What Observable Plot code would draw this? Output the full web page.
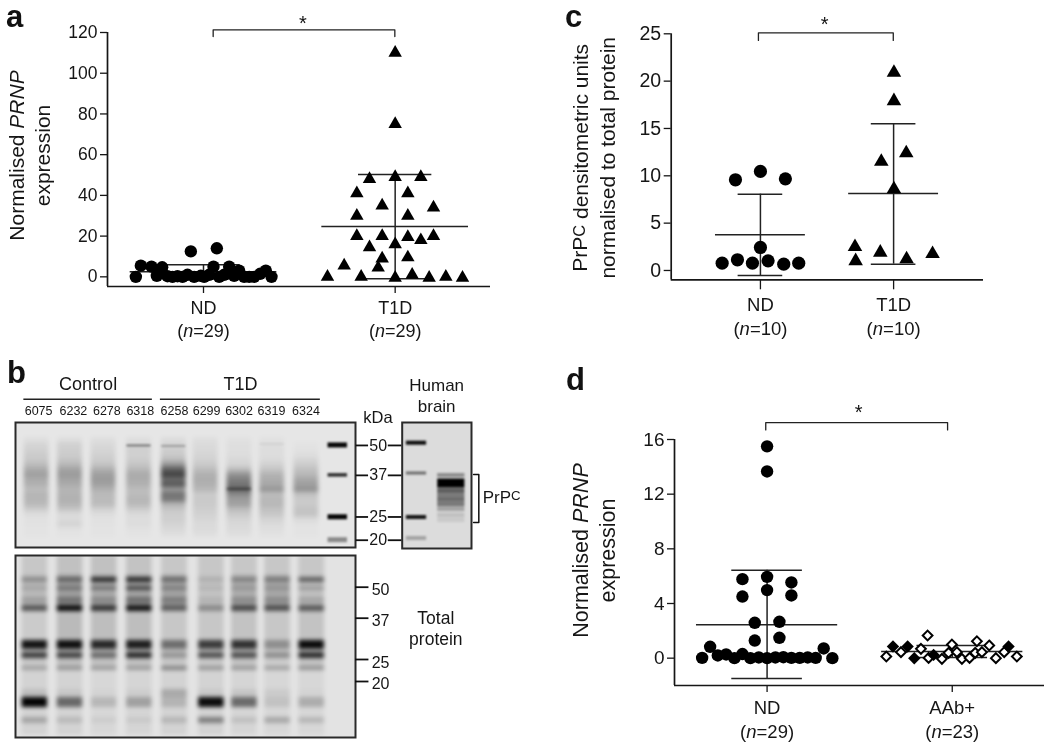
<!DOCTYPE html>
<html><head><meta charset="utf-8">
<style>
html,body{margin:0;padding:0;background:#fff;}
#root{position:relative;width:1050px;height:745px;overflow:hidden;font-family:"Liberation Sans",Arial,sans-serif;color:#111;filter:blur(0.4px);}
.letter{position:absolute;font-weight:bold;font-size:31px;line-height:34px;color:#111;}
</style>
<script src="https://cdn.jsdelivr.net/npm/d3@7"></script>
<script src="https://cdn.jsdelivr.net/npm/@observablehq/plot@0.6"></script>
</head><body><div id="root"></div>
<script>
// ---------- Panel a ----------
const aNdOffset=[-203,-188,-156,-124,-140,-108,-78,-48,-28,-8,-38,40,30,17,47,62,77,92,107,122,152,170,187,204,137,-93,-63,-138,2];
const aNdValue=[0,5.5,5,4.7,0.5,0.3,0.3,1,0,0.5,12.5,14,5,1,0,1,5,0.5,3,0,0,1.5,3,0,0,0,0,2.5,0];
const aT1dOffset=[0,0,-77,0,77,-115,38,-39,115,-115,38,-115,-39,38,77,115,-77,0,-39,38,-153,-51,-203,-102,0,51,102,152,202];
const aT1dValue=[110,75,48,49,49,41,41,35,34,30,30,20,20,19.5,18,20,14.5,16,9,9.5,5.5,4.5,0,0,-0.5,1,-0.5,0,-0.5];
const aMean=[2.5,24.7], aUpper=[5.9,50.2], aLower=[-1,-1];
// ---------- Panel c ----------
const cNdOffset=[-75,0,75,0,-115,-69,-24,23,70,115];
const cNdValue=[9.58,10.46,9.68,2.43,0.77,1.13,0.77,1.02,0.67,0.77];
const cT1dOffset=[1,1,38,-37,1,-116,-40,117,-114,39];
const cT1dValue=[20.9,17.9,12.4,11.5,8.6,2.5,1.9,1.76,1.0,1.2];
const cMean=[3.77,8.13], cUpper=[8.06,15.5], cLower=[-0.53,0.67];
// ---------- Panel d ----------
const dNdOffset=[0,0,-74,0,73,0,-74,73,-37,37,-37,37,-171,170,-195,196,-148,-123,-98,-74,-50,-25,0,25,49,73,98,122,146];
const dNdValue=[15.5,13.66,5.78,5.95,5.54,4.98,4.51,4.59,2.59,2.66,1.29,1.49,0.83,0.71,0.02,0,0.2,0.27,0,0.3,0,0.05,0,0.05,0.07,0.02,0.02,0.05,0.02];
const dFilledOffset=[-178,-134,-114,-56,169];
const dFilledValue=[0.85,0.85,0,0.24,0.85];
const dOpenOffset=[-74,-198,-154,-94,-71,-31,-1,-11,14,29,52,74,69,89,111,131,156,194];
const dOpenValue=[1.66,0.12,0.44,0.68,0.02,-0.05,1.0,0.39,0.44,-0.05,0.02,1.24,0.39,0.44,0.93,0,0.44,0.12];
const dMean=[2.44,0.49], dUpper=[6.44,0.93], dLower=[-1.49,0.05];
// ---------- Panel b: gel lanes ----------
const sampleIds=["6075","6232","6278","6318","6258","6299","6302","6319","6324"];
const sampleLabelLane=[1.06,2.1,3.1,4.1,5.12,6.08,7.05,8.02,9.05];
const groupNames=["Control","T1D"];
const groupFrom=[0.62,4.7], groupTo=[4.46,9.48];
const blot1Lanes=[1,2,3,4.06,5.1,6.05,7.06,8.04,9.06];
const blot1Distance=[15,20,25,30,35,40,45,50,55,60,65,70,75,80,85,90,95,100,105,110];
const blot1Alpha=[
[.03,.03,.03,.03,.04,.03,.02,.02,.00],
[.07,.09,.06,.06,.08,.05,.03,.03,.01],
[.09,.10,.07,.10,.10,.06,.03,.04,.02],
[.11,.11,.09,.09,.12,.07,.04,.04,.03],
[.13,.14,.11,.11,.18,.09,.06,.05,.07],
[.18,.20,.15,.14,.35,.12,.08,.09,.11],
[.26,.29,.24,.20,.60,.18,.18,.14,.16],
[.31,.33,.31,.26,.72,.23,.36,.22,.20],
[.26,.29,.33,.25,.55,.25,.45,.25,.27],
[.23,.26,.30,.23,.62,.23,.50,.27,.31],
[.18,.21,.23,.18,.35,.20,.60,.35,.36],
[.21,.22,.19,.18,.50,.12,.40,.18,.16],
[.21,.23,.19,.21,.48,.12,.32,.20,.12],
[.19,.21,.18,.19,.22,.12,.30,.20,.12],
[.11,.14,.09,.11,.14,.10,.18,.16,.15],
[.04,.05,.04,.05,.10,.09,.12,.13,.15],
[.02,.05,.02,.04,.10,.07,.08,.08,.05],
[.02,.08,.02,.04,.08,.05,.06,.05,.02],
[.01,.02,.01,.02,.06,.05,.05,.03,.01],
[.01,.01,.01,.01,.03,.03,.03,.02,.01]];
const blot1ExtraLane=[4.06,5.1,8.04,7.06];
const blot1ExtraDistance=[23.5,24,22,67];
const blot1ExtraHeight=[2,2,1.5,2.5];
const blot1ExtraAlpha=[.45,.25,.08,.3];
const ladderDistance=[23,53,95,118];
const ladderHeight=[5,3.5,5,5];
const ladderAlpha=[.98,.8,.98,.4];
const blot1Ticks=[23,53,94.7,118];
const markerLabels=["50","37","25","20"];
const brainLane=[1,1,1,1,2,2,2,2,2,2,2,2,2];
const brainDistance=[20.7,51,95,116,53,61,68,72,77,82,87,93,98];
const brainHeight=[4,3,4,4,4,9,4,5,5,5,4,5,4];
const brainAlpha=[.95,.5,.9,.25,.35,1,.55,.45,.5,.45,.25,.12,.08];
const blot2Lanes=[1,2.02,3.01,4.03,5.05,6.12,7.08,8.04,9.03];
const blot2Distance=[0,20,55,85,115,22,31,42,50,85,97,111,134,142,162];
const blot2Height=[20,35,30,30,65,5,4,6,6,9,6,4,8,10,6];
const blot2Alpha=[
[.12,.15,.15,.14,.12,.12,.12,.12,.12],
[.18,.30,.25,.28,.28,.14,.24,.26,.15],
[.10,.18,.16,.16,.12,.12,.14,.12,.14],
[.12,.16,.15,.15,.12,.12,.14,.10,.14],
[.07,.07,.05,.06,.07,.07,.06,.05,.05],
[.25,.38,.75,.75,.35,.10,.25,.28,.50],
[.12,.30,.35,.60,.25,.08,.15,.15,.20],
[.15,.30,.20,.35,.25,.08,.20,.18,.15],
[.55,.95,.70,.90,.45,.30,.60,.55,.55],
[.90,.92,.80,.85,.45,.70,.75,.30,.95],
[.70,.65,.45,.80,.25,.60,.60,.30,.80],
[.20,.22,.20,.20,.35,.25,.22,.22,.25],
[.10,.06,.02,.04,.20,.05,.08,.06,.02],
[.98,.50,.15,.25,.15,.95,.50,.10,.20],
[.22,.12,.05,.06,.14,.40,.10,.22,.15]];
const blot2Ticks=[31.7,62.7,104,126];
const blot2TextDistance=[34,65,107,128];

const root=document.getElementById("root");
const INK="#161616";
const baseStyle={fontFamily:"'Liberation Sans',Arial,sans-serif",background:"transparent",color:INK};

function place(svg,left,top){
  svg.style.position="absolute";svg.style.left=left+"px";svg.style.top=top+"px";
  root.appendChild(svg);
}
function letter(t,left,top){
  const d=document.createElement("div");d.className="letter";d.textContent=t;
  d.style.left=left+"px";d.style.top=top+"px";root.appendChild(d);
}
function band(group,mean,up,lo,capHalf,meanHalf){
  return [
    {x1:group-meanHalf,x2:group+meanHalf,y:mean},
    {x1:group-capHalf,x2:group+capHalf,y:up},
    {x1:group-capHalf,x2:group+capHalf,y:lo}
  ];
}
function scatter(cfg){
  const {left,top,width,height,mt,mb,ml,mr,xDomain,yDomain,ticks,gap,labels,means,uppers,lowers,cap,meanW,tickX,series,bracket,star,yLabel,yLabelDx,yFont,fonts}=cfg;
  const segs=[0,1].flatMap(i=>band(i*gap,means[i],uppers[i],lowers[i],cap,meanW));
  const verts=[0,1].map(i=>({x:i*gap,y1:lowers[i],y2:uppers[i]}));
  const marks=[
    Plot.ruleY([yDomain[0]],{x1:xDomain[0],x2:xDomain[1],stroke:INK,strokeWidth:1.7}),
    Plot.ruleX([xDomain[0]],{y1:yDomain[0],y2:yDomain[1],stroke:INK,strokeWidth:1.7}),
    Plot.axisY({ticks,tickSize:7,tickPadding:3,fontSize:fonts.tick,label:null,stroke:INK,strokeWidth:1.3,tickFormat:d=>String(d)}),
    Plot.axisX({ticks:[0,gap],tickSize:tickX,tickPadding:cfg.xPad,fontSize:fonts.x,label:null,lineHeight:1.27,stroke:INK,strokeWidth:1.3,tickFormat:d=>labels[d===0?0:1]}),
    Plot.ruleY(segs,{x1:"x1",x2:"x2",y:"y",stroke:"#222",strokeWidth:1.5}),
    Plot.ruleX(verts,{x:"x",y1:"y1",y2:"y2",stroke:"#222",strokeWidth:1.5}),
    ...series.map(s=>Plot.dot(s.off.map((o,i)=>({x:s.group*gap+o,y:s.val[i]})),{x:"x",y:"y",symbol:s.symbol,r:s.r,fill:s.fill,stroke:s.stroke||"none",strokeWidth:s.sw||0})),
    Plot.line(bracket.pts,{x:"x",y:"y",stroke:"#222",strokeWidth:1.3}),
    Plot.text(["*"],{x:star[0],y:star[1],fontSize:20,fill:"#111",lineAnchor:"middle"}),
    Plot.text([yLabel],{frameAnchor:"left",dx:yLabelDx,dy:cfg.yLabelDy||0,rotate:-90,fontSize:yFont,lineHeight:1.25,textAnchor:"middle",fill:INK})
  ];
  const svg=Plot.plot({width,height,marginTop:mt,marginBottom:mb,marginLeft:ml,marginRight:mr,style:baseStyle,
    x:{domain:xDomain},y:{domain:yDomain},marks});
  place(svg,left,top);
}

// a
scatter({left:0,top:0,width:520,height:350,mt:32,mb:64,ml:107,mr:30,xDomain:[-288,861],yDomain:[-4.75,120],
  ticks:[0,20,40,60,80,100,120],gap:575,labels:["ND\n(n=29)","T1D\n(n=29)"],means:aMean,uppers:aUpper,lowers:aLower,cap:110,meanW:220,tickX:7,xPad:4,
  series:[{off:aNdOffset,val:aNdValue,group:0,symbol:"circle",r:6.2,fill:"#000"},{off:aT1dOffset,val:aT1dValue,group:1,symbol:"triangle",r:5,fill:"#000"}],
  bracket:{pts:[{x:29,y:118},{x:29,y:121.3},{x:574,y:121.3},{x:574,y:118}]},star:[298,124.5],
  yLabel:"Normalised PRNP\nexpression",yLabelDx:-79,yLabelDy:-4,yFont:21,fonts:{tick:17.5,x:18}});
// c
scatter({left:540,top:0,width:510,height:350,mt:33.3,mb:70.7,ml:130.7,mr:67,xDomain:[-268,670],yDomain:[-0.985,25],
  ticks:[0,5,10,15,20,25],gap:400,labels:["ND\n(n=10)","T1D\n(n=10)"],means:cMean,uppers:cUpper,lowers:cLower,cap:67,meanW:135,tickX:10,xPad:5,
  series:[{off:cNdOffset,val:cNdValue,group:0,symbol:"circle",r:6.6,fill:"#000"},{off:cT1dOffset,val:cT1dValue,group:1,symbol:"triangle",r:5.4,fill:"#000"}],
  bracket:{pts:[{x:-6,y:24.3},{x:-6,y:25.1},{x:399,y:25.1},{x:399,y:24.3}]},star:[193,26],
  yLabel:"PrPC densitometric units\nnormalised to total protein",yLabelDx:-79,yLabelDy:1,yFont:21,fonts:{tick:19.5,x:18.5}});
// d
scatter({left:540,top:365,width:510,height:380,mt:74,mb:60,ml:134,mr:6,xDomain:[-278,833],yDomain:[-2,16],
  ticks:[0,4,8,12,16],gap:556,labels:["ND\n(n=29)","AAb+\n(n=23)"],means:dMean,uppers:dUpper,lowers:dLower,cap:106,meanW:212,tickX:7,xPad:5,
  series:[{off:dNdOffset,val:dNdValue,group:0,symbol:"circle",r:6.2,fill:"#000"},
    {off:dOpenOffset,val:dOpenValue,group:1,symbol:"diamond2",r:4.4,fill:"#fff",stroke:"#000",sw:2},
    {off:dFilledOffset,val:dFilledValue,group:1,symbol:"diamond2",r:5.6,fill:"#000"}],
  bracket:{pts:[{x:-4,y:16.7},{x:-4,y:17.24},{x:542,y:17.24},{x:542,y:16.7}]},star:[275,17.95],
  yLabel:"Normalised PRNP\nexpression",yLabelDx:-82,yLabelDy:-12,yFont:21.5,fonts:{tick:19,x:18.5}});

// b – gel helpers
function gelRows(lanes,half,distance,heights,alpha){
  return distance.flatMap((d,r)=>lanes.map((l,i)=>({x1:l-half,x2:l+half,y1:d,y2:d+heights[r],a:alpha[r][i]})));
}
function gelList(lanes,half,distance,heights,alpha){
  return distance.map((d,i)=>({x1:lanes[i]-half,x2:lanes[i]+half,y1:d-heights[i]/2,y2:d+heights[i]/2,a:alpha[i]}));
}
const gelMark=(rows)=>Plot.rect(rows,{x1:"x1",x2:"x2",y1:"y1",y2:"y2",fill:"#000",fillOpacity:"a",inset:0,clip:true});
function blurGel(svg,amounts){
  const groups=[...svg.querySelectorAll('g[aria-label="rect"]')].slice(1);
  groups.forEach((g,i)=>{g.setAttribute("style",`filter:blur(${amounts[i]}px)`);});
}

// Blot 1 (PrPc)
{
  const rows=gelRows(blot1Lanes,.37,blot1Distance,blot1Distance.map(()=>5),blot1Alpha);
  const extra=gelList(blot1ExtraLane,.36,blot1ExtraDistance,blot1ExtraHeight,blot1ExtraAlpha);
  const ladder=gelList(ladderDistance.map(()=>10),.29,ladderDistance,ladderHeight,ladderAlpha);
  const svg=Plot.plot({width:520,height:190,marginTop:57,marginBottom:8,marginLeft:15,marginRight:165,style:baseStyle,
    x:{domain:[0.37,10.53],axis:null},y:{domain:[125.3,0],axis:null},opacity:{type:"identity"},
    marks:[
      Plot.rect([0],{x1:0.37,x2:10.53,y1:0,y2:125.3,fill:"#e6e6e6"}),
      gelMark(rows),gelMark(extra),gelMark(ladder),
      Plot.frame({stroke:"#2a2a2a",strokeWidth:2}),
      Plot.text(groupNames,{x:(d,i)=>(groupFrom[i]+groupTo[i])/2,y:-38,fontSize:18,fill:INK}),
      Plot.ruleY(groupNames,{x1:(d,i)=>groupFrom[i],x2:(d,i)=>groupTo[i],y:()=>-23.3,stroke:"#222",strokeWidth:1.5}),
      Plot.text(sampleIds,{x:(d,i)=>sampleLabelLane[i],y:-12,fontSize:12.5,fill:INK}),
      Plot.text(["kDa"],{x:11.2,y:-5,fontSize:16.5,fill:INK}),
      Plot.ruleY(blot1Ticks,{x1:10.55,x2:10.92,stroke:"#111",strokeWidth:1.8}),
      Plot.ruleY(blot1Ticks,{x1:11.51,x2:11.93,stroke:"#111",strokeWidth:1.8}),
      Plot.text(markerLabels,{x:11.21,y:(d,i)=>blot1Ticks[i],fontSize:16,fill:INK})
    ]});
  blurGel(svg,[2.2,1,.9]);
  place(svg,0,365);
}
// Human brain lane
{
  const rows=brainDistance.map((d,i)=>{
    const h=brainLane[i]===1?.29:.39;
    return {x1:brainLane[i]-h,x2:brainLane[i]+h,y1:d-brainHeight[i]/2,y2:d+brainHeight[i]/2,a:brainAlpha[i]};
  });
  const svg=Plot.plot({width:140,height:190,marginTop:57,marginBottom:7,marginLeft:6.7,marginRight:64,style:baseStyle,
    x:{domain:[0.59,2.58],axis:null},y:{domain:[126,0],axis:null},opacity:{type:"identity"},
    marks:[
      Plot.rect([0],{x1:0.59,x2:2.58,y1:0,y2:126,fill:"#dcdcdc"}),
      gelMark(rows),
      Plot.frame({stroke:"#2a2a2a",strokeWidth:2}),
      Plot.text(["Human\nbrain"],{x:1.58,y:-28,fontSize:17,lineHeight:1.27,fill:INK}),
      Plot.line([[2.64,52],[2.79,52],[2.79,100],[2.64,100]],{stroke:"#111",strokeWidth:1.5}),
      Plot.text(["PrPC"],{x:2.9,y:75,fontSize:17,textAnchor:"start",fill:INK})
    ]});
  blurGel(svg,[1.3]);
  place(svg,395,365);
}
// Blot 2 (total protein)
{
  const rows=gelRows(blot2Lanes,.37,blot2Distance,blot2Height,blot2Alpha);
  const svg=Plot.plot({width:520,height:205,marginTop:15,marginBottom:8,marginLeft:15,marginRight:165,style:baseStyle,
    x:{domain:[0.44,10.3],axis:null},y:{domain:[182,0],axis:null},opacity:{type:"identity"},
    marks:[
      Plot.rect([0],{x1:0.44,x2:10.3,y1:0,y2:182,fill:"#e3e3e3"}),
      gelMark(rows),
      Plot.frame({stroke:"#2a2a2a",strokeWidth:2}),
      Plot.ruleY(blot2Ticks,{x1:10.3,x2:10.69,stroke:"#111",strokeWidth:1.8}),
      Plot.text(markerLabels,{x:10.77,y:(d,i)=>blot2TextDistance[i],fontSize:16,textAnchor:"start",fill:INK}),
      Plot.text(["Total\nprotein"],{x:12.63,y:72,fontSize:17.5,lineHeight:1.24,fill:INK})
    ]});
  blurGel(svg,[2]);
  place(svg,0,540);
}

letter("a",6,0);letter("c",565,0);letter("b",7,356);letter("d",566,363);

// rich text: italics and the raised C
const rich={
  "(n=29)":'(<tspan font-style="italic">n</tspan>=29)',
  "(n=23)":'(<tspan font-style="italic">n</tspan>=23)',
  "(n=10)":'(<tspan font-style="italic">n</tspan>=10)',
  "Normalised PRNP":'Normalised <tspan font-style="italic">PRNP</tspan>',
  "PrPC densitometric units":'PrP<tspan font-size="78%" dy="-0.18em">C</tspan><tspan dy="0.18em"> densitometric units</tspan>',
  "PrPC":'PrP<tspan font-size="78%" dy="-0.25em">C</tspan>'
};
root.querySelectorAll("text,tspan").forEach(n=>{
  if(n.children.length===0 && rich[n.textContent.trim()]) n.innerHTML=rich[n.textContent.trim()];
});
</script></body></html>
